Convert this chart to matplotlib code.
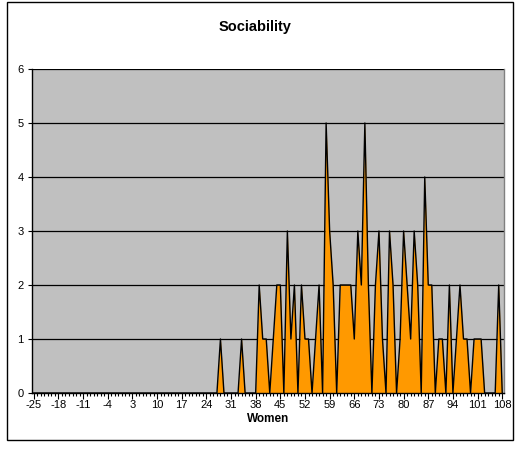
import matplotlib
matplotlib.use("Agg")
import matplotlib.pyplot as plt
from matplotlib.patches import Rectangle

plt.rcParams['font.family'] = ['Liberation Sans', 'DejaVu Sans']

scores = list(range(-25, 109))
counts = [0] * 53 + [
    # 28 .. 108
    1, 0, 0, 0, 0, 0, 1, 0, 0, 0,   # 28-37
    0, 2, 1, 1, 0, 1, 2, 2, 0, 3,   # 38-47
    1, 2, 0, 2, 1, 1, 0, 1, 2, 0,   # 48-57
    5, 3, 2, 0, 2, 2, 2, 2, 1, 3,   # 58-67
    2, 5, 2, 0, 2, 3, 1, 0, 3, 2,   # 68-77
    0, 1, 3, 2, 1, 3, 2, 0, 4, 2,   # 78-87
    2, 0, 1, 1, 0, 2, 0, 1, 2, 1,   # 88-97
    1, 0, 1, 1, 1, 0, 0, 0, 0, 2,   # 98-107
    0,                              # 108
]
xtick_labels = list(range(-25, 109, 7))
ytick_labels = list(range(0, 7))
title = "Sociability"
xlabel = "Women"

W, H = 520, 454
fig = plt.figure(figsize=(W / 100, H / 100), dpi=100)

# outer chart border
fig.patches.append(Rectangle((7 / W, 1 - 440 / H), (513 - 7) / W, (440 - 2) / H,
                             transform=fig.transFigure, fill=False,
                             edgecolor='black', linewidth=1.0))

L, R, T, B = 32, 504, 69, 393
ax = fig.add_axes([L / W, 1 - B / H, (R - L) / W, (B - T) / H])
ax.set_facecolor('#C0C0C0')

for yv in ytick_labels[1:]:
    ax.axhline(yv, color='black', linewidth=0.9, zorder=1)

ax.fill_between(scores, counts, 0, color='#FF9900', linewidth=0, zorder=2)
ax.plot(scores, counts, color='black', linewidth=1.0, zorder=3)

ax.set_xlim(-25.5, 108.5)
ax.set_ylim(0, 6)

ax.set_yticks(ytick_labels)
ax.set_yticklabels([str(v) for v in ytick_labels], fontsize=8)
ax.set_xticks(xtick_labels)
ax.set_xticklabels([str(v) for v in xtick_labels], fontsize=8)
ax.set_xticks(scores, minor=True)
ax.tick_params(axis='x', which='major', direction='out', length=4, width=0.8, pad=1)
ax.tick_params(axis='x', which='minor', direction='out', length=2.5, width=0.8)
ax.tick_params(axis='y', which='major', direction='out', length=3, width=0.8, pad=3)

for s in ['left', 'bottom']:
    ax.spines[s].set_color('black')
    ax.spines[s].set_linewidth(1.0)
ax.spines['top'].set_visible(False)
ax.spines['right'].set_color('#808080')
ax.spines['right'].set_linewidth(1.0)

fig.text(255 / W, 1 - 27 / H, title, ha='center', va='center',
         fontsize=10.5, fontweight='bold')
fig.text(268 / W, 1 - 419 / H, xlabel, ha='center', va='center',
         fontsize=8.5, fontweight='bold')

fig.savefig('out.png', dpi=100)
